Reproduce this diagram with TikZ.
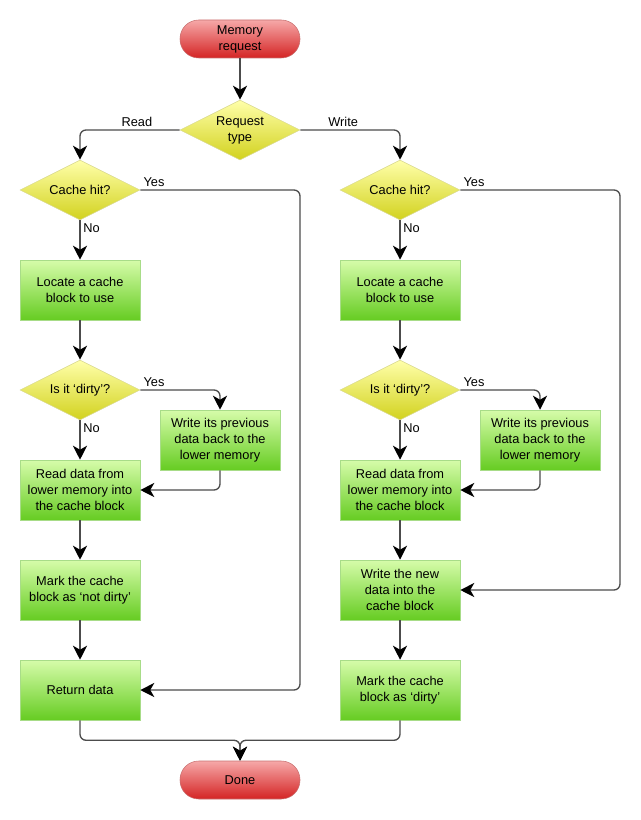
\documentclass[tikz,border=0pt]{standalone}
\usepackage{fontspec}
\setmainfont{Liberation Sans}
\usetikzlibrary{shapes.geometric,arrows.meta,positioning}

\definecolor{termtop}{HTML}{F6A8A8}
\definecolor{termbot}{HTML}{D42424}
\definecolor{termline}{HTML}{C87070}
\definecolor{dectop}{HTML}{FFFFAA}
\definecolor{decbot}{HTML}{D2D21E}
\definecolor{decline}{HTML}{D8D890}
\definecolor{boxtop}{HTML}{D6FCAA}
\definecolor{boxbot}{HTML}{66CC22}
\definecolor{boxline}{HTML}{A8DC88}

\begin{document}
\begin{tikzpicture}[x=0.75pt,y=-0.75pt,
  every node/.style={font=\fontsize{9.6}{12}\selectfont,align=center},
  terminal/.style={rectangle,rounded corners=14pt,draw=termline,
    top color=termtop,bottom color=termbot,minimum width=90pt,minimum height=28.5pt},
  decision/.style={diamond,aspect=2,inner sep=0pt,draw=decline,
    top color=dectop,bottom color=decbot,minimum width=90pt,minimum height=45pt},
  process/.style={rectangle,draw=boxline,top color=boxtop,bottom color=boxbot,
    minimum width=90pt,minimum height=45pt,inner sep=1pt},
  arr/.style={draw=black!70,line width=1pt,rounded corners=4.5pt,
    -{Stealth[length=10.5pt,width=10.5pt,inset=3pt,color=black]}},
  lbl/.style={font=\fontsize{9.6}{11}\selectfont,inner sep=2pt}]
\useasboundingbox (0,0) rectangle (640,820);

% Start and request type
\node[terminal] (req) at (240,39) {Memory\\request};
\node[decision] (rtype) at (240,130) {Request\\type};
\draw[arr] (req) -- (rtype);

% The two columns share the same start
\foreach \s/\x in {L/80,R/400}
{
  \node[decision] (hit\s) at (\x,190) {Cache hit?};
  \node[process] (loc\s) at (\x,290) {Locate a cache\\block to use};
  \node[decision] (dirty\s) at (\x,390) {Is it `dirty'?};
  \node[process] (back\s) at ({\x+140},440) {Write its previous\\data back to the\\lower memory};
  \node[process] (read\s) at (\x,490) {Read data from\\lower memory into\\the cache block};
  \draw[arr] (hit\s) -- node[lbl,pos=0,below right] {No} (loc\s);
  \draw[arr] (loc\s) -- (dirty\s);
  \draw[arr] (dirty\s.east) -- node[lbl,pos=0,above right] {Yes} (back\s.north |- dirty\s.east) -- (back\s.north);
  \draw[arr] (dirty\s) -- node[lbl,pos=0,below right] {No} (read\s);
  \draw[arr] (back\s.south) |- (read\s.east);
}

% Read side
\node[process] (markL) at (80,590) {Mark the cache\\block as `not dirty'};
\node[process] (ret) at (80,690) {Return data};
\draw[arr] (rtype.west) -- node[lbl,above,pos=0.43] {Read} (hitL.north |- rtype.west) -- (hitL.north);
\draw[arr] (readL) -- (markL);
\draw[arr] (markL) -- (ret);
\draw[arr] (hitL.east) -- node[lbl,pos=0,above right] {Yes} (300,190) |- (ret.east);

% Write side
\node[process] (wnew) at (400,590) {Write the new\\data into the\\cache block};
\node[process] (markR) at (400,690) {Mark the cache\\block as `dirty'};
\draw[arr] (rtype.east) -- node[lbl,above,pos=0.43] {Write} (hitR.north |- rtype.east) -- (hitR.north);
\draw[arr] (readR) -- (wnew);
\draw[arr] (wnew) -- (markR);
\draw[arr] (hitR.east) -- node[lbl,pos=0,above right] {Yes} (620,190) |- (wnew.east);

% End
\node[terminal] (done) at (240,780) {Done};
\draw[arr] (ret.south) -- ++(0,20) -| (done.north);
\draw[arr] (markR.south) -- ++(0,20) -| (done.north);
\end{tikzpicture}
\end{document}
